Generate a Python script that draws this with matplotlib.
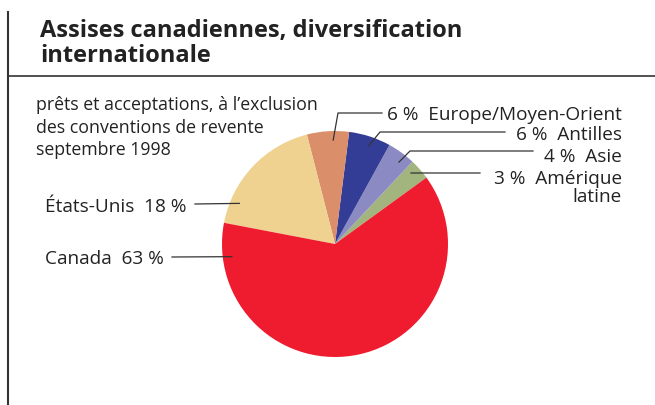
import numpy as np
import matplotlib.pyplot as plt

plt.rcParams['font.family'] = ['Open Sans', 'DejaVu Sans']

# data (counter-clockwise from the start angle)
regions = ["Amérique latine", "Asie", "Antilles", "Europe/Moyen-Orient", "États-Unis", "Canada"]
shares = [3, 4, 6, 6, 18, 63]
colors = ["#A3B57E", "#8B8AC3", "#333D96", "#DB8E6A", "#F0D290", "#EE1C2E"]

title_lines = ["Assises canadiennes, diversification", "internationale"]
subtitle_lines = ["prêts et acceptations, à l’exclusion", "des conventions de revente", "septembre 1998"]

W, H = 655, 406
fig = plt.figure(figsize=(W / 100, H / 100), dpi=100)
ax = fig.add_axes([0, 0, 1, 1])
ax.set_xlim(0, W)
ax.set_ylim(0, H)
ax.set_aspect('equal')
ax.axis('off')

cx, cy, R = 335, H - 245, 113
ax.pie(shares, colors=colors, startangle=36, counterclock=True,
       center=(cx, cy), radius=R, wedgeprops=dict(linewidth=0))
ax.set_xlim(0, W)
ax.set_ylim(0, H)

def on_pie(angle, f=0.92):
    a = np.radians(angle)
    return cx + f * R * np.cos(a), cy + f * R * np.sin(a)

lc = "#333333"
tc = "#222222"
lw = 0.9
fs = 13.7

# right-hand labels: (text lines, anchor angle, elbow x, line y, line end x, baselines)
right = [
    (["6 %  Europe/Moyen-Orient"], 91, 338, 114, 382, [120]),
    (["6 %  Antilles"], 71, 380, 133, 505, [140]),
    (["4 %  Asie"], 52, 410, 152, 533, [162]),
    (["3 %  Amérique", "latine"], 43, 412, 174, 480, [184, 202]),
]
for lines, ang, ex, ly, endx, bases in right:
    px, py = on_pie(ang)
    ax.plot([px, ex, endx], [py, H - ly, H - ly], color=lc, lw=lw)
    for s, b in zip(lines, bases):
        ax.text(622, H - b, s, ha='right', va='baseline', fontsize=fs, color=tc)

# left-hand labels
left = [
    ("États-Unis  18 %", 157, 195, 205, 212),
    ("Canada  63 %", 187, 172, 258, 264),
]
for txt, ang, sx, ly, b in left:
    px, py = on_pie(ang)
    ax.plot([sx, px], [H - ly, py], color=lc, lw=lw)
    ax.text(45, H - b, txt, ha='left', va='baseline', fontsize=fs, color=tc)

# title and subtitle
for s, b in zip(title_lines, [37, 62]):
    ax.text(40, H - b, s, ha='left', va='baseline', fontsize=17, fontweight='bold', color=tc)
for s, b in zip(subtitle_lines, [110, 133, 155]):
    ax.text(36, H - b, s, ha='left', va='baseline', fontsize=12.8, color=tc)

# frame lines
ax.plot([8, W], [H - 77, H - 77], color="#333333", lw=1.2)
ax.plot([7.5, 7.5], [0, H - 13], color="#333333", lw=1.5)

fig.savefig("out.png", dpi=100)
